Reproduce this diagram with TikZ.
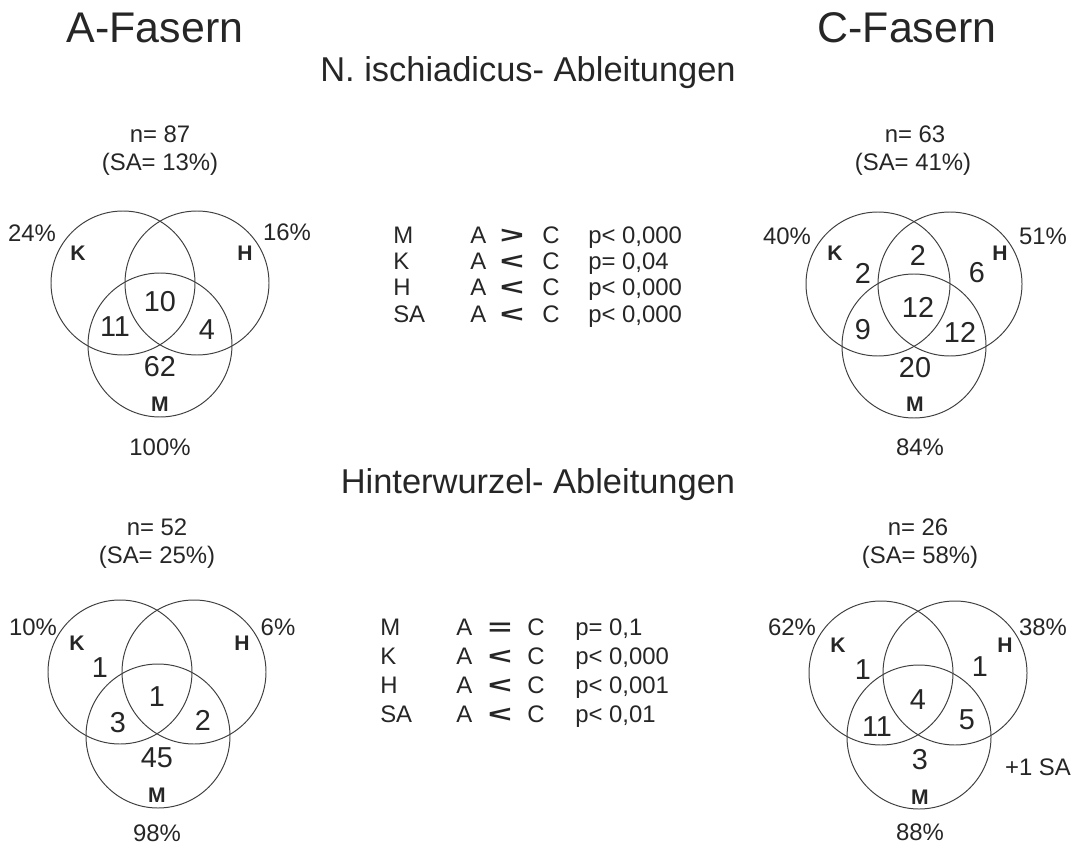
\documentclass[tikz,border=0pt]{standalone}
\usepackage{fontspec}
\usepackage{graphicx}
\setmainfont{Liberation Sans}

\begin{document}
\begin{tikzpicture}[x=0.25mm, y=-0.25mm, every node/.style={inner sep=0pt, text=black!85}]
%Stile fuer Kreise und Beschriftungen
\tikzset{kreis/.style={circle, draw=black!75, line width=0.7pt, minimum size=36mm}}
\tikzset{zahl/.style={font=\fontsize{20.5}{20.5}\selectfont}}
\tikzset{klein/.style={font=\fontsize{17}{17}\selectfont}}
\tikzset{marke/.style={font=\fontsize{15}{15}\selectfont\bfseries}}
\tikzset{titel/.style={font=\fontsize{30.5}{30.5}\selectfont, anchor=base}}
\tikzset{untertitel/.style={font=\fontsize{24.5}{24.5}\selectfont, anchor=base}}
\tikzset{tab/.style={font=\fontsize{17}{17}\selectfont, anchor=base west}}
\tikzset{rel/.style={font=\fontsize{17}{17}\selectfont\bfseries, anchor=base}}

\useasboundingbox (0,0) rectangle (1078,847);

\node[titel] (tA) at (155,43) {A-Fasern};
\node[titel] (tC) at (907,43) {C-Fasern};
\node[untertitel] (tIsch) at (528,82) {N. ischiadicus- Ableitungen};
\node[untertitel] (tHinter) at (538,493) {Hinterwurzel- Ableitungen};

% A-Fasern, ischiadicus
\node[kreis] (iaK) at (123,283) {};
\node[kreis] (iaH) at (197,283) {};
\node[kreis] (iaM) at (160,345) {};
\node[klein] (iaN) at (160,134) {n= 87};
\node[klein] (iaSA) at (160,164) {(SA= 13\%)};
\node[klein] (iaKp) at (32,233) {24\%};
\node[klein] (iaHp) at (287,232) {16\%};
\node[klein] (iaMp) at (160,447) {100\%};
\node[marke] (iaKl) at (78,253) {K};
\node[marke] (iaHl) at (245,253) {H};
\node[marke] (iaMl) at (160,404) {M};
\node[zahl] (iaKHM) at (160,302) {10};
\node[zahl] (iaKM) at (115,327) {11};
\node[zahl] (iaHM) at (207,330) {4};
\node[zahl] (iaMo) at (160,367) {62};

% C-Fasern, ischiadicus
\node[kreis] (icK) at (878,284) {};
\node[kreis] (icH) at (950,284) {};
\node[kreis] (icM) at (914,346) {};
\node[klein] (icN) at (915,134) {n= 63};
\node[klein] (icSA) at (913,164) {(SA= 41\%)};
\node[klein] (icKp) at (787,236) {40\%};
\node[klein] (icHp) at (1043,236) {51\%};
\node[klein] (icMp) at (920,447) {84\%};
\node[marke] (icKl) at (835,253) {K};
\node[marke] (icHl) at (1000,253) {H};
\node[marke] (icMl) at (915,404) {M};
\node[zahl] (icKo) at (863,273) {2};
\node[zahl] (icKH) at (918,255) {2};
\node[zahl] (icHo) at (977,273) {6};
\node[zahl] (icKHM) at (918,307) {12};
\node[zahl] (icKM) at (863,330) {9};
\node[zahl] (icHM) at (960,332) {12};
\node[zahl] (icMo) at (915,368) {20};

% A-Fasern, Hinterwurzel
\node[kreis] (haK) at (120,672) {};
\node[kreis] (haH) at (194,672) {};
\node[kreis] (haM) at (158,736) {};
\node[klein] (haN) at (157,527) {n= 52};
\node[klein] (haSA) at (157,557) {(SA= 25\%)};
\node[klein] (haKp) at (33,627) {10\%};
\node[klein] (haHp) at (278,627) {6\%};
\node[klein] (haMp) at (157,833) {98\%};
\node[marke] (haKl) at (77,643) {K};
\node[marke] (haHl) at (242,643) {H};
\node[marke] (haMl) at (157,795) {M};
\node[zahl] (haKo) at (100,668) {1};
\node[zahl] (haKHM) at (157,697) {1};
\node[zahl] (haKM) at (118,723) {3};
\node[zahl] (haHM) at (203,720) {2};
\node[zahl] (haMo) at (157,758) {45};

% C-Fasern, Hinterwurzel
\node[kreis] (hcK) at (881,673) {};
\node[kreis] (hcH) at (955,673) {};
\node[kreis] (hcM) at (919,737) {};
\node[klein] (hcN) at (918,527) {n= 26};
\node[klein] (hcSA) at (920,557) {(SA= 58\%)};
\node[klein] (hcKp) at (792,627) {62\%};
\node[klein] (hcHp) at (1043,627) {38\%};
\node[klein] (hcMp) at (920,832) {88\%};
\node[klein] (hcSAx) at (1038,767) {+1 SA};
\node[marke] (hcKl) at (838,645) {K};
\node[marke] (hcHl) at (1005,645) {H};
\node[marke] (hcMl) at (920,797) {M};
\node[zahl] (hcKo) at (863,670) {1};
\node[zahl] (hcHo) at (980,667) {1};
\node[zahl] (hcKHM) at (918,700) {4};
\node[zahl] (hcKM) at (877,727) {11};
\node[zahl] (hcHM) at (967,720) {5};
\node[zahl] (hcMo) at (920,760) {3};

% Vergleich A gegen C
\foreach \s/\y/\r/\p in {M/244/>/{p< 0,000}, K/270/</{p= 0,04}, H/296/</{p< 0,000}, SA/322/</{p< 0,000}}{
  \node[tab] (iv\s) at (393,\y) {\s};
  \node[tab] (ivA\s) at (470,\y) {A};
  \node[rel] (ivR\s) at (512,\y) {\scalebox{1.7}[1]{\r}};
  \node[tab] (ivC\s) at (542,\y) {C};
  \node[tab] (ivP\s) at (588,\y) {\p};
}
\foreach \s/\y/\r/\p in {M/635/=/{p= 0,1}, K/664/</{p< 0,000}, H/693/</{p< 0,001}, SA/722/</{p< 0,01}}{
  \node[tab] (hv\s) at (380,\y) {\s};
  \node[tab] (hvA\s) at (456,\y) {A};
  \node[rel] (hvR\s) at (500,\y) {\scalebox{1.7}[1]{\r}};
  \node[tab] (hvC\s) at (527,\y) {C};
  \node[tab] (hvP\s) at (575,\y) {\p};
}
\end{tikzpicture}
\end{document}
